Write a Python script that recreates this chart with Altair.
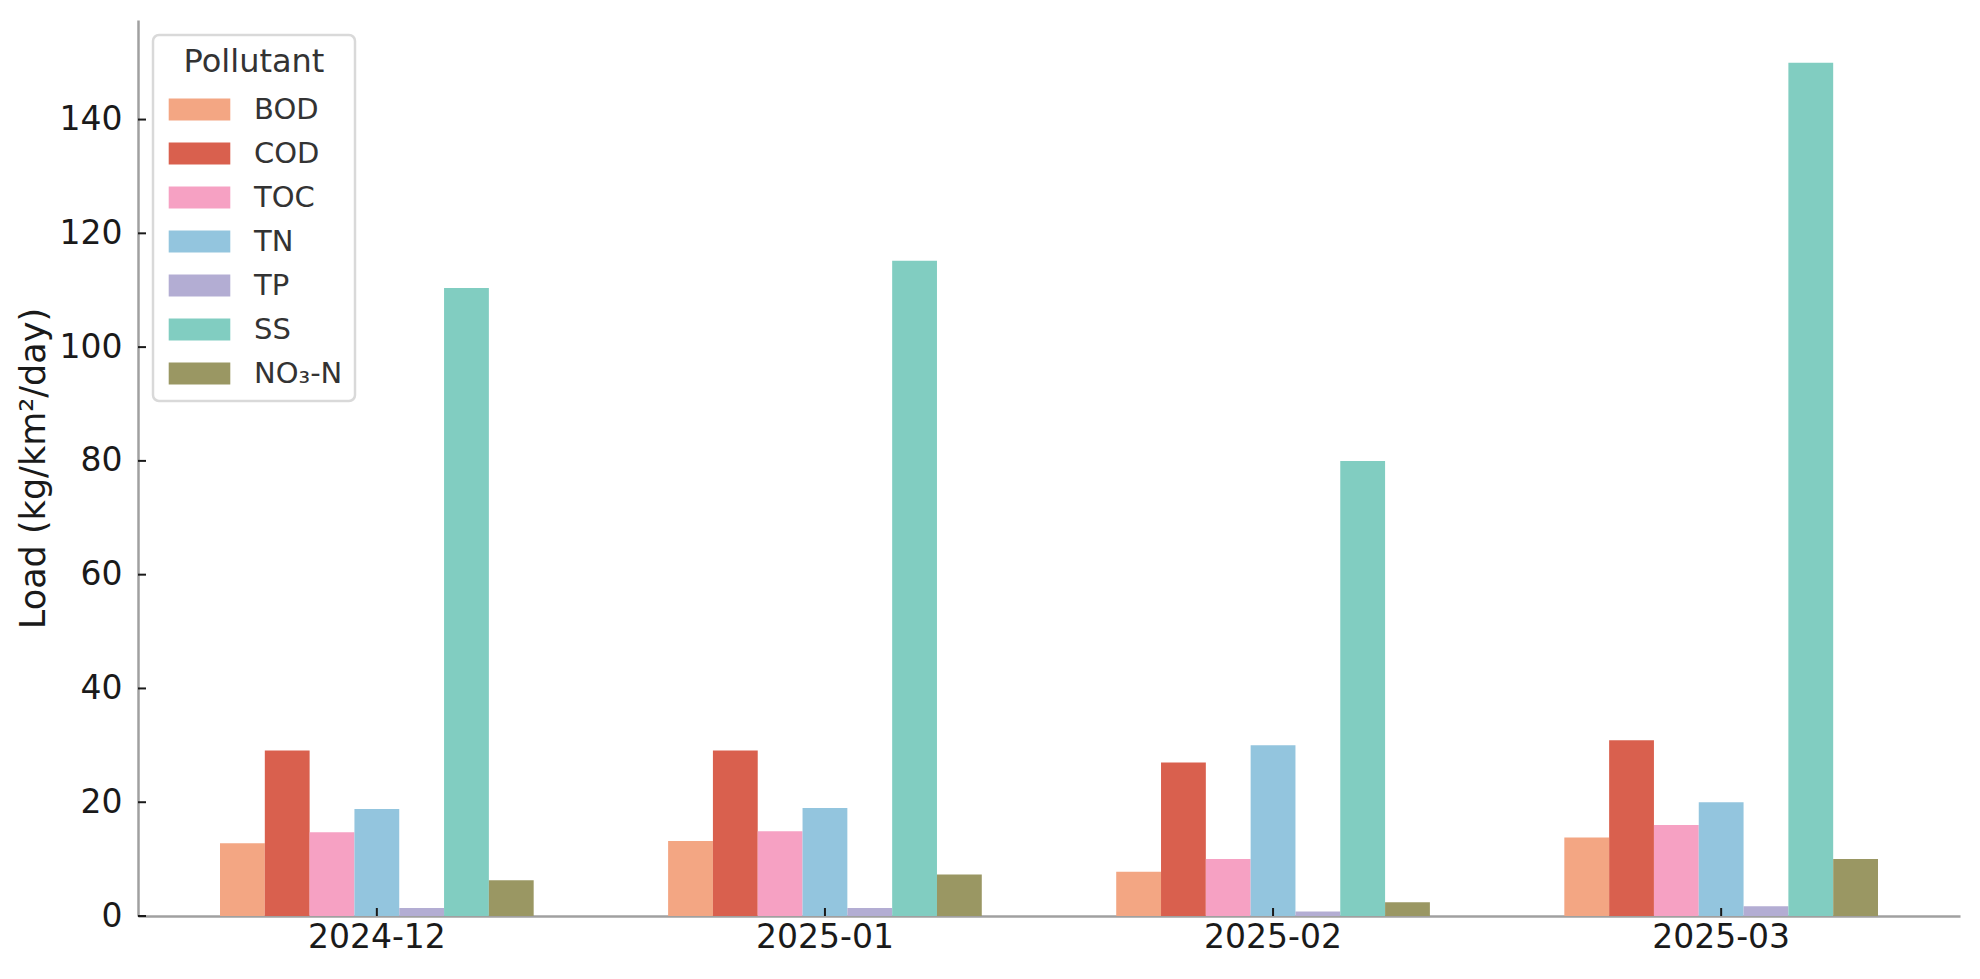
import altair as alt
import pandas as pd

months = ["2024-12", "2025-01", "2025-02", "2025-03"]
pollutants = ["BOD", "COD", "TOC", "TN", "TP", "SS", "NO₃-N"]
bod = [12.8, 13.2, 7.8, 13.8]
cod = [29.1, 29.1, 27.0, 30.9]
toc = [14.7, 14.9, 10.0, 16.0]
tn = [18.8, 19.0, 30.0, 20.0]
tp = [1.4, 1.4, 0.8, 1.7]
ss = [110.4, 115.2, 80.0, 150.0]
no3 = [6.3, 7.3, 2.4, 10.0]
colors = ["#F3A683", "#D9604E", "#F6A1C3", "#93C5DE", "#B3ADD3", "#81CDC1", "#9A9763"]
y_ticks = [0, 20, 40, 60, 80, 100, 120, 140]

series = [bod, cod, toc, tn, tp, ss, no3]
rows = []
for p, vals in zip(pollutants, series):
    for m, v in zip(months, vals):
        rows.append({"Month": m, "Pollutant": p, "Load": v})
df = pd.DataFrame(rows)

W, H = 1822, 896
FONT = "DejaVu Sans"

xscale = alt.Scale(domain=months, paddingInner=0.3, paddingOuter=0.183)
yscale = alt.Scale(domain=[0, 157.5], nice=False, zero=True)

bars = alt.Chart(df).mark_bar().encode(
    x=alt.X("Month:N", scale=xscale, sort=months,
            axis=alt.Axis(title=None, labelAngle=0, ticks=False, labelPadding=5,
                          labelFontSize=33, labelColor="#1a1a1a", domainColor="#a0a0a0",
                          domainWidth=2.5, grid=False)),
    xOffset=alt.XOffset("Pollutant:N", sort=pollutants,
                        scale=alt.Scale(paddingInner=0, paddingOuter=0)),
    y=alt.Y("Load:Q", scale=yscale,
            axis=alt.Axis(title="Load (kg/km²/day)", values=y_ticks, ticks=False,
                          labelPadding=16, labelFontSize=33, labelColor="#1a1a1a",
                          titleFontSize=35, titleFontWeight="normal", titleColor="#1a1a1a",
                          titlePadding=8, domainColor="#a0a0a0", domainWidth=2.5, grid=False)),
    color=alt.Color("Pollutant:N", sort=pollutants,
                    scale=alt.Scale(domain=pollutants, range=colors),
                    legend=alt.Legend(
                        title="Pollutant", orient="none", legendX=15, legendY=15,
                        titleFontSize=32, titleFontWeight="normal", titleColor="#333333",
                        titleAnchor="middle", titlePadding=16,
                        labelFontSize=29, labelColor="#333333", labelOffset=40,
                        symbolType="M-2.8,-1H2.8V1H-2.8Z", symbolSize=484,
                        symbolStrokeWidth=0, symbolOpacity=1, symbolOffset=20,
                        rowPadding=14, padding=12,
                        strokeColor="#d9d9d9", fillColor="white", cornerRadius=6)),
)

xt_df = pd.DataFrame({"Month": months})
xticks = alt.Chart(xt_df).mark_rule(color="#1a1a1a", strokeWidth=2).encode(
    x=alt.X("Month:N", scale=xscale, sort=months),
    y=alt.value(H),
    y2=alt.value(H - 8),
)

yt_df = pd.DataFrame({"tick": y_ticks})
yticks = alt.Chart(yt_df).mark_rule(color="#1a1a1a", strokeWidth=2).encode(
    y=alt.Y("tick:Q", scale=yscale),
    x=alt.value(0),
    x2=alt.value(8),
)

chart = alt.layer(bars, xticks, yticks).properties(
    width=W, height=H,
    padding={"left": 8, "top": 12, "right": 5, "bottom": 5},
).configure(
    font=FONT
).configure_view(stroke=None).configure_legend(strokeWidth=2.5)

chart.save("out.html", embed_options={"renderer": "svg", "actions": False})
